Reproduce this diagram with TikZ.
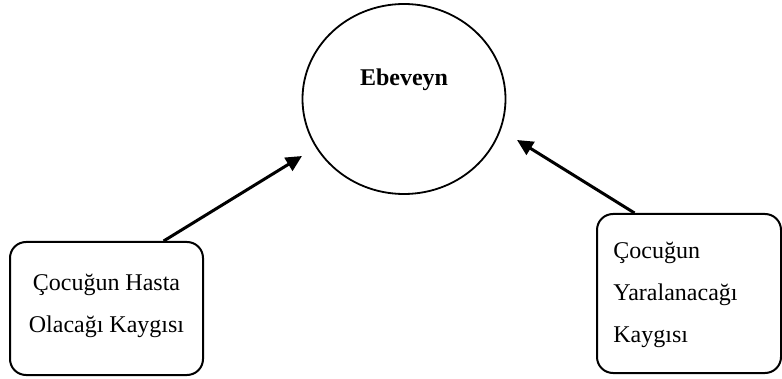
\documentclass[tikz,border=0pt]{standalone}
\usepackage{fontspec}
\setmainfont{Liberation Serif}
\usetikzlibrary{shapes.geometric,arrows.meta,calc}
\begin{document}
\begin{tikzpicture}[x=0.5pt,y=-0.5pt,
  parentshape/.style={ellipse, draw, line width=0.9pt, minimum width=101.5pt, minimum height=95pt, inner sep=0pt},
  boxstyle/.style={draw, line width=1pt, rounded corners=8pt, inner sep=0pt},
  txt/.style={font=\fontsize{12}{21}\selectfont},
  conn/.style={line width=1.5pt, -{Triangle[length=8pt,width=7.5pt]}}]
\useasboundingbox (0,0) rectangle (782,379);
% parent ellipse
\node[parentshape] (par) at (404,99) {};
\node[txt, font=\fontsize{12}{21}\selectfont\bfseries] (parlbl) at (404,80) {Ebeveyn};
% left box
\node[boxstyle, minimum width=96.5pt, minimum height=66.5pt] (lbox) at (106.5,308.5) {};
\node[txt, align=center] (ltext) at (106.5,306) {Çocuğun Hasta\\Olacağı Kaygısı};
% right box
\node[boxstyle, minimum width=92pt, minimum height=79.5pt] (rbox) at (689,293.5) {};
\node[txt, align=left, anchor=west, inner sep=0pt] (rtext) at (613,295) {Çocuğun\\Yaralanacağı\\Kaygısı};
% connectors
\coordinate (ltip) at (302,156);
\coordinate (rtip) at (517,140);
\draw[conn] ($(lbox.north west)!0.793!(lbox.north east)$) -- (ltip);
\draw[conn] ($(rbox.north west)!0.207!(rbox.north east)$) -- (rtip);
\end{tikzpicture}
\end{document}
